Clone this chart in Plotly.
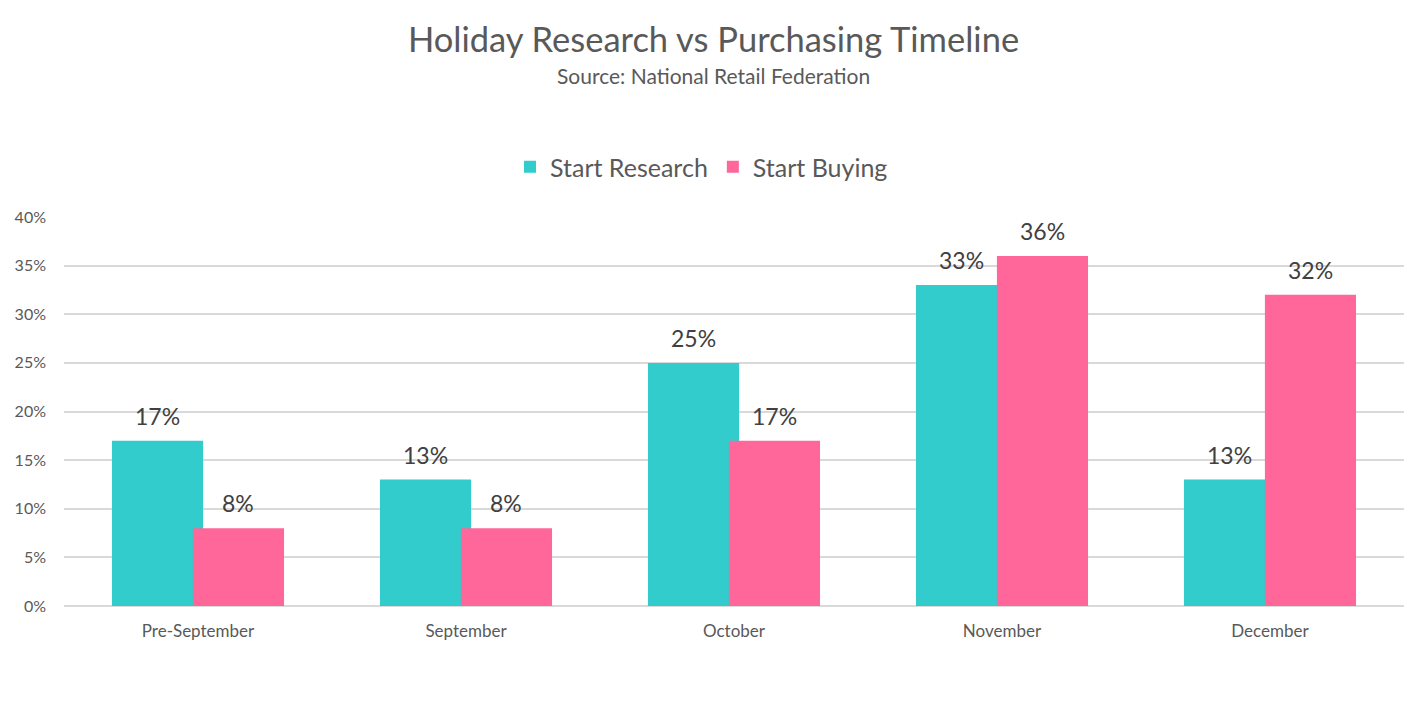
import plotly.graph_objects as go

categories = ["Pre-September", "September", "October", "November", "December"]
start_research = [17, 13, 25, 33, 13]
start_buying = [8, 8, 17, 36, 32]
series_names = ["Start Research", "Start Buying"]
y_ticks = [0, 5, 10, 15, 20, 25, 30, 35, 40]

TEAL = "#33CCCC"
PINK = "#FF6699"
FONT = "Lato, 'Open Sans', sans-serif"

BAR_W = 0.34
OFFSETS = [-0.321, -0.019]

# page has an 8px body margin; the figure is sized/placed to compensate
W, H = 1419, 704
PL, PR, PT, PB = 56, 1395.7, 209, 597.7

fig = go.Figure()
for name, vals, color, off in [
    (series_names[0], start_research, TEAL, OFFSETS[0]),
    (series_names[1], start_buying, PINK, OFFSETS[1]),
]:
    fig.add_trace(go.Bar(
        name=name,
        x=list(range(len(categories))),
        y=[v / 100 for v in vals],
        marker=dict(color=color, line=dict(width=0)),
        width=BAR_W,
        offset=off,
        hoverinfo="skip",
    ))

annotations = []
for vals, off in [(start_research, OFFSETS[0]), (start_buying, OFFSETS[1])]:
    for i, v in enumerate(vals):
        annotations.append(dict(
            x=i + off + BAR_W / 2, y=v / 100, xref="x", yref="y",
            text=f"{v}%", showarrow=False, yanchor="bottom", yshift=9,
            font=dict(family=FONT, size=23, color="#404040"),
        ))

annotations.append(dict(
    text="Source: National Retail Federation",
    xref="paper", yref="paper",
    x=(705.5 - PL) / (PR - PL), y=1 + (PT - 68) / (PB - PT),
    xanchor="center", yanchor="middle", showarrow=False,
    font=dict(family=FONT, size=21, color="#595959"),
))

fig.update_layout(
    width=W, height=H,
    paper_bgcolor="white", plot_bgcolor="white",
    barmode="overlay",
    margin=dict(l=PL, r=W - PR, t=PT, b=H - PB, autoexpand=False),
    title=dict(
        text="Holiday Research vs Purchasing Timeline",
        x=705.5 / W, xref="container", xanchor="center",
        y=1 - 32 / H, yref="container", yanchor="middle",
        font=dict(family=FONT, size=34.5, color="#595959"),
    ),
    legend=dict(
        orientation="h", xref="container", yref="container",
        x=693.5 / W, xanchor="center", y=1 - 159 / H, yanchor="middle",
        font=dict(family=FONT, size=25, color="#595959"),
        traceorder="normal",
    ),
    xaxis=dict(
        tickmode="array", tickvals=list(range(len(categories))), ticktext=categories,
        range=[-0.5, len(categories) - 0.5],
        showgrid=False, zeroline=False, showline=False, ticks="",
        tickfont=dict(family=FONT, size=17, color="#595959"),
        ticklabelstandoff=13,
    ),
    yaxis=dict(
        range=[0, 0.4], tickvals=[t / 100 for t in y_ticks], tickformat=".0%",
        showgrid=True, gridcolor="#D9D9D9", gridwidth=1.5,
        zeroline=True, zerolinecolor="#D9D9D9", zerolinewidth=1.5,
        showline=False, ticks="",
        tickfont=dict(family=FONT, size=16, color="#595959"),
        ticklabelstandoff=17,
    ),
    annotations=annotations,
)

fig.write_html("out.html")
